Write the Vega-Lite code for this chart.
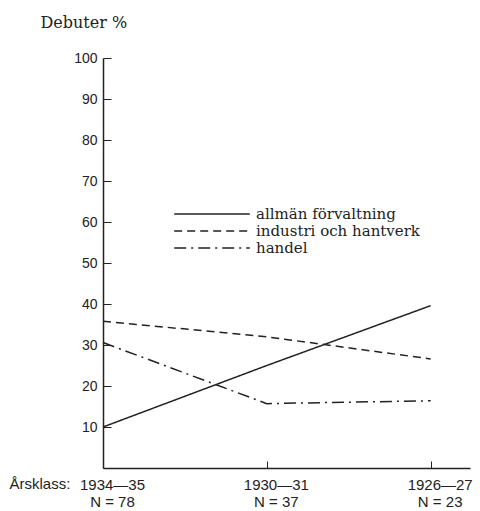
{
  "$schema": "https://vega.github.io/schema/vega-lite/v6.json",
  "width": 367,
  "height": 410,
  "autosize": {"type": "none"},
  "padding": {"left": 103, "top": 58, "right": 10, "bottom": 43},
  "background": "white",
  "config": {"view": {"stroke": null}, "axis": {"grid": false, "domainColor": "#222", "tickColor": "#222", "labelColor": "#222", "titleColor": "#222"}},
  "data": {"values": [
    {"pos": 0, "value": 10, "series": "allmän förvaltning"},
    {"pos": 1, "value": 25, "series": "allmän förvaltning"},
    {"pos": 2, "value": 39.6, "series": "allmän förvaltning"},
    {"pos": 0, "value": 35.8, "series": "industri och hantverk"},
    {"pos": 1, "value": 32, "series": "industri och hantverk"},
    {"pos": 2, "value": 26.6, "series": "industri och hantverk"},
    {"pos": 0, "value": 30.6, "series": "handel"},
    {"pos": 1, "value": 15.7, "series": "handel"},
    {"pos": 2, "value": 16.4, "series": "handel"}
  ]},
  "mark": {"type": "line", "color": "#222", "strokeWidth": 1.5},
  "encoding": {
    "x": {"field": "pos", "type": "quantitative", "scale": {"domain": [0, 2.24], "nice": false},
      "axis": {"values": [0, 1, 2], "tickSize": -7, "domainWidth": 1.5, "labelFont": "Liberation Sans", "labelFontSize": 15, "labelPadding": 16,
        "labelExpr": "datum.value == 0 ? ['1934—35', 'N = 78'] : datum.value == 1 ? ['1930—31', 'N = 37'] : ['1926—27', 'N = 23']",
        "labelLineHeight": 17, "labelFlush": false, "labelOffset": 9,
        "title": "Årsklass:", "titleFont": "Liberation Sans", "titleFontSize": 15, "titleFontWeight": "normal", "titleAnchor": "start", "titleAlign": "left", "titleX": -94, "titleY": 20, "titleBaseline": "alphabetic"}},
    "y": {"field": "value", "type": "quantitative", "scale": {"domain": [0, 100], "nice": false},
      "axis": {"values": [10, 20, 30, 40, 50, 60, 70, 80, 90, 100], "tickSize": -8, "labelPadding": 14, "domainWidth": 1.5, "labelFont": "Liberation Sans", "labelFontSize": 14,
        "title": "Debuter %", "titleFont": "DejaVu Serif", "titleFontSize": 16, "titleFontWeight": "normal", "titleAngle": 0, "titleAlign": "left", "titleAnchor": "start", "titleX": -63, "titleY": -31, "titleBaseline": "alphabetic"}},
    "strokeDash": {"field": "series", "type": "nominal",
      "scale": {"domain": ["allmän förvaltning", "industri och hantverk", "handel"], "range": [[1, 0], [8, 5], [12, 5, 2, 5]]},
      "legend": {"orient": "none", "legendX": 101, "legendY": 148, "title": null, "symbolType": "M-5.4,0H5.4", "symbolSize": 196, "symbolStrokeColor": "#222", "symbolStrokeWidth": 1.5,
        "labelFont": "DejaVu Serif", "labelFontSize": 15, "labelColor": "#222", "labelLimit": 400, "rowPadding": 1, "labelOffset": 36}}
  }
}
